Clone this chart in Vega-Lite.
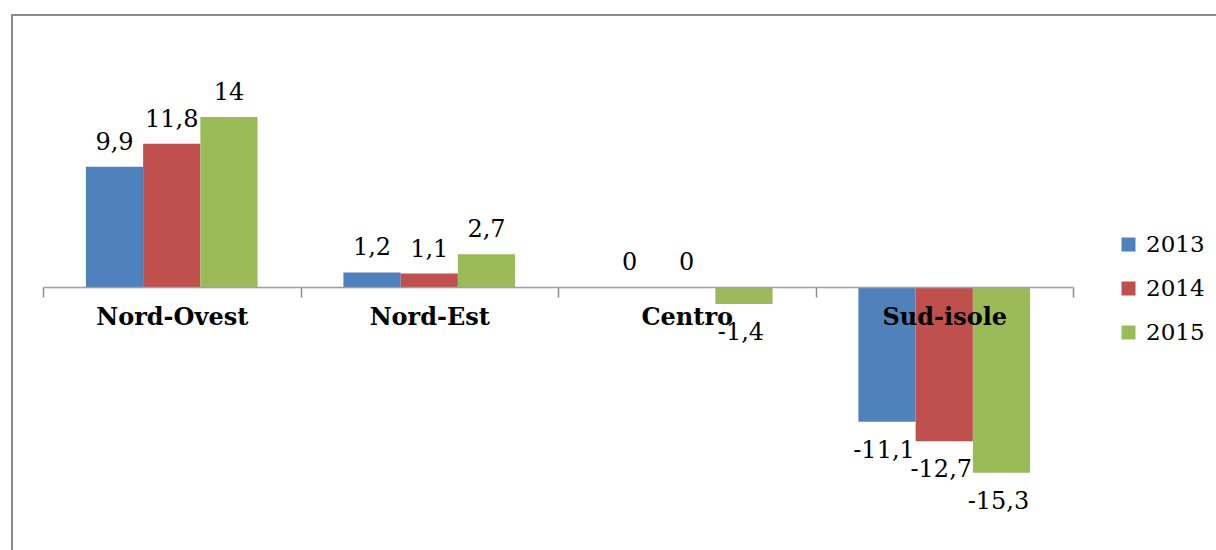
{
  "$schema": "https://vega.github.io/schema/vega-lite/v6.json",
  "width": 1216,
  "height": 550,
  "autosize": {"type": "fit", "contains": "padding"},
  "padding": {"left": 12, "top": 15, "right": -3, "bottom": -3},
  "background": "white",
  "config": {"view": {"stroke": "#8c8c8c", "strokeWidth": 2}},
  "data": {
    "values": [
      {"regione": "Nord-Ovest", "anno": "2013", "valore": 9.9, "etichetta": "9,9"},
      {"regione": "Nord-Ovest", "anno": "2014", "valore": 11.8, "etichetta": "11,8"},
      {"regione": "Nord-Ovest", "anno": "2015", "valore": 14, "etichetta": "14"},
      {"regione": "Nord-Est", "anno": "2013", "valore": 1.2, "etichetta": "1,2"},
      {"regione": "Nord-Est", "anno": "2014", "valore": 1.1, "etichetta": "1,1"},
      {"regione": "Nord-Est", "anno": "2015", "valore": 2.7, "etichetta": "2,7"},
      {"regione": "Centro", "anno": "2013", "valore": 0, "etichetta": "0"},
      {"regione": "Centro", "anno": "2014", "valore": 0, "etichetta": "0"},
      {"regione": "Centro", "anno": "2015", "valore": -1.4, "etichetta": "-1,4"},
      {"regione": "Sud-isole", "anno": "2013", "valore": -11.1, "etichetta": "-11,1"},
      {"regione": "Sud-isole", "anno": "2014", "valore": -12.7, "etichetta": "-12,7"},
      {"regione": "Sud-isole", "anno": "2015", "valore": -15.3, "etichetta": "-15,3"}
    ]
  },
  "encoding": {
    "x": {
      "field": "regione",
      "type": "nominal",
      "sort": ["Nord-Ovest", "Nord-Est", "Centro", "Sud-isole"],
      "scale": {"range": [31, 1061], "paddingInner": 0, "paddingOuter": 0},
      "axis": {
        "orient": "bottom",
        "offset": -266,
        "zindex": 1,
        "title": null,
        "labelAngle": 0,
        "tickBand": "extent",
        "tickSize": 10,
        "tickColor": "#8c8c8c",
        "tickWidth": 1.5,
        "domainColor": "#a0a0a0",
        "domainWidth": 1.5,
        "grid": false,
        "labelFont": "DejaVu Serif",
        "labelFontWeight": "bold",
        "labelFontSize": 24,
        "labelColor": "black",
        "labelPadding": 8
      }
    },
    "xOffset": {"field": "anno", "type": "nominal", "scale": {"paddingInner": 0, "paddingOuter": 0.75}},
    "y": {
      "field": "valore",
      "type": "quantitative",
      "scale": {"domain": [-21.91, 22.4], "nice": false, "zero": false},
      "axis": null
    }
  },
  "layer": [
    {
      "mark": {"type": "bar"},
      "encoding": {
        "color": {
          "field": "anno",
          "type": "nominal",
          "scale": {"domain": ["2013", "2014", "2015"], "range": ["#4F81BD", "#C0504D", "#9BBB59"]},
          "legend": {
            "title": null,
            "orient": "none",
            "legendX": 1105,
            "legendY": 218,
            "symbolType": "square",
            "symbolSize": 196,
            "symbolStrokeWidth": 0,
            "labelFont": "DejaVu Serif",
            "labelFontSize": 23,
            "labelColor": "black",
            "rowPadding": 20,
            "labelOffset": 6
          }
        }
      }
    },
    {
      "transform": [{"filter": "datum.valore >= 0"}],
      "mark": {"type": "text", "font": "DejaVu Serif", "fontSize": 24, "color": "black", "baseline": "alphabetic", "align": "center", "dy": -17},
      "encoding": {"text": {"field": "etichetta"}}
    },
    {
      "transform": [{"filter": "datum.valore < 0"}],
      "mark": {"type": "text", "font": "DejaVu Serif", "fontSize": 24, "color": "black", "baseline": "alphabetic", "align": "center", "dy": 36, "dx": -3},
      "encoding": {"text": {"field": "etichetta"}}
    }
  ]
}
